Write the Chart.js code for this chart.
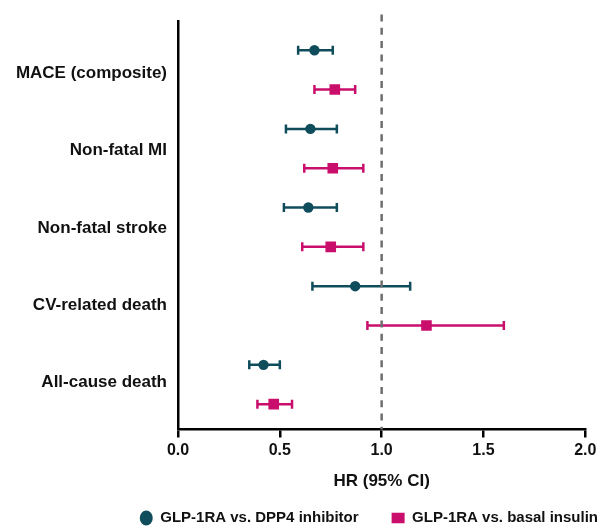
<!DOCTYPE html>
<html>
<head>
<meta charset="utf-8">
<script src="https://cdn.jsdelivr.net/npm/chart.js@4.4.0/dist/chart.umd.min.js"></script>
<style>
    html, body { margin: 0; padding: 0; background: #fff; overflow: hidden; }
    #wrap { width: 603px; height: 528px; }
</style>
</head>
<body>
<div id="wrap"><canvas id="hrChart" width="603" height="528"></canvas></div>
<script>
var outcomes = ["MACE (composite)", "Non-fatal MI", "Non-fatal stroke", "CV-related death", "All-cause death"];
var seriesNames = ["GLP-1RA vs. DPP4 inhibitor", "GLP-1RA vs. basal insulin"];

var dpp4Hr = [0.67, 0.65, 0.64, 0.87, 0.42];
var dpp4Lo = [0.59, 0.53, 0.52, 0.66, 0.35];
var dpp4Hi = [0.76, 0.78, 0.78, 1.14, 0.50];

var insulinHr = [0.77, 0.76, 0.75, 1.22, 0.47];
var insulinLo = [0.67, 0.62, 0.61, 0.93, 0.39];
var insulinHi = [0.87, 0.91, 0.91, 1.60, 0.56];

var xTicks = [0, 0.5, 1, 1.5, 2];
var refHr = 1;

var teal = "#0f4c5c";
var magenta = "#c90e6c";
var fontName = "'Liberation Sans', Arial, sans-serif";

// row scale: each outcome has two rows (dpp4 then insulin)
var rowMin = -0.738, rowMax = 9.644;
var labelMin = -0.678, labelMax = 4.613;

function rowOf(i, s) {
    return i * 2 + s;
}

var datasets = [];

datasets.push({
    label: seriesNames[0],
    data: dpp4Hr.map(function (v, i) { return {x: v, y: rowOf(i, 0)}; }),
    pointStyle: "circle",
    pointRadius: 5.2,
    backgroundColor: teal,
    borderColor: teal,
    pointBorderWidth: 0,
    borderWidth: 0
});
datasets.push({
    label: seriesNames[1],
    data: insulinHr.map(function (v, i) { return {x: v, y: rowOf(i, 1)}; }),
    pointStyle: "rect",
    pointRadius: 7.5,
    backgroundColor: magenta,
    borderColor: magenta,
    pointBorderWidth: 0,
    borderWidth: 0
});

// dashed line at HR = 1
datasets.push({
    label: "ref",
    data: [{x: refHr, y: rowMin - 0.17}, {x: refHr, y: rowMax}],
    showLine: true,
    borderColor: "#6e6e6e",
    borderWidth: 2.5,
    borderDash: [7, 6.3],
    pointRadius: 0,
    clip: false
});

function addWhiskers(lo, hi, s, color) {
    for (var i = 0; i < lo.length; i++) {
        datasets.push({
            label: "ci",
            data: [{x: lo[i], y: rowOf(i, s)}, {x: hi[i], y: rowOf(i, s)}],
            showLine: true,
            borderColor: color,
            borderWidth: 2.5,
            pointStyle: "line",
            rotation: 90,
            pointRadius: 4.5,
            pointBorderColor: color,
            pointBorderWidth: 2.5
        });
    }
}
addWhiskers(dpp4Lo, dpp4Hi, 0, teal);
addWhiskers(insulinLo, insulinHi, 1, magenta);

new Chart(document.getElementById("hrChart"), {
    type: "scatter",
    data: { datasets: datasets },
    options: {
        responsive: false,
        animation: false,
        devicePixelRatio: 1,
        events: [],
        layout: { padding: { top: 21, left: 0, right: -28, bottom: -7.5 } },
        plugins: {
            tooltip: { enabled: false },
            legend: {
                position: "bottom",
                align: "end",
                labels: {
                    filter: function (item) { return item.datasetIndex < 2; },
                    usePointStyle: true,
                    pointStyleWidth: 13,
                    boxHeight: 10.5,
                    padding: 33,
                    color: "#111",
                    font: { family: fontName, size: 15, weight: "bold" }
                }
            }
        },
        scales: {
            x: {
                type: "linear",
                min: 0,
                max: 2,
                afterBuildTicks: function (scale) {
                    scale.ticks = xTicks.map(function (v) { return {value: v}; });
                },
                afterFit: function (scale) {
                    scale.height = 48;
                    scale.paddingRight = 17.7;
                },
                ticks: {
                    color: "#111",
                    padding: 3,
                    font: { family: fontName, size: 16, weight: "bold" },
                    callback: function (v) { return Number(v).toFixed(1); }
                },
                grid: {
                    display: true,
                    drawOnChartArea: false,
                    drawTicks: true,
                    tickLength: 8,
                    color: "#000",
                    lineWidth: 2.5
                },
                border: { display: true, color: "#000", width: 2.5 },
                title: {
                    display: true,
                    text: "HR (95% CI)",
                    color: "#111",
                    padding: { top: 0, bottom: -14 },
                    font: { family: fontName, size: 17, weight: "bold" }
                }
            },
            y: {
                type: "linear",
                display: false,
                reverse: true,
                min: rowMin,
                max: rowMax
            },
            yl: {
                type: "linear",
                position: "left",
                reverse: true,
                min: labelMin,
                max: labelMax,
                afterBuildTicks: function (scale) {
                    scale.ticks = outcomes.map(function (o, i) { return {value: i}; });
                },
                afterFit: function (scale) {
                    scale.width = 178;
                },
                ticks: {
                    color: "#111",
                    padding: 11,
                    font: { family: fontName, size: 17, weight: "bold" },
                    callback: function (v) { return outcomes[v]; }
                },
                grid: { display: false, drawTicks: false },
                border: { display: true, color: "#000", width: 2.5 }
            }
        }
    }
});
</script>
</body>
</html>
